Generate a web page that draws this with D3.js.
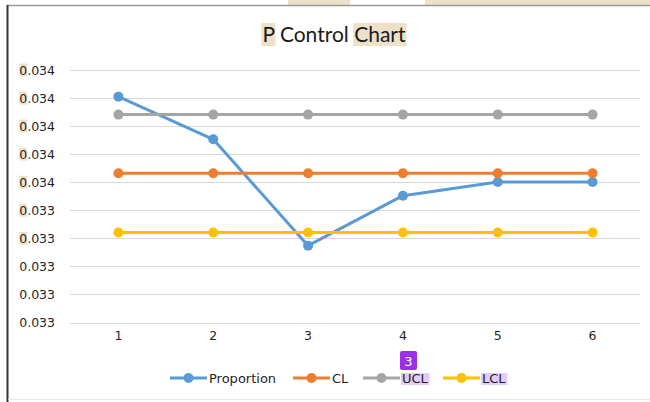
<!DOCTYPE html>
<html>
<head>
<meta charset="utf-8">
<script src="https://cdn.jsdelivr.net/npm/d3@7/dist/d3.min.js"></script>
<style>
  html, body { margin: 0; padding: 0; background: #fff; }
  svg { display: block; }
</style>
</head>
<body>
<svg id="chart" width="650" height="402"></svg>
<script>
// ---- data ----
const categories = ["1", "2", "3", "4", "5", "6"];
const proportion = [0.033805, 0.033653, 0.033274, 0.033452, 0.033501, 0.033501];
const clValues   = [0.033532, 0.033532, 0.033532, 0.033532, 0.033532, 0.033532];
const uclValues  = [0.033741, 0.033741, 0.033741, 0.033741, 0.033741, 0.033741];
const lclValues  = [0.033321, 0.033321, 0.033321, 0.033321, 0.033321, 0.033321];
const yTicks      = [0.0330, 0.0331, 0.0332, 0.0333, 0.0334, 0.0335, 0.0336, 0.0337, 0.0338, 0.0339];
const yTickLabels = ["0.033", "0.033", "0.033", "0.033", "0.033", "0.034", "0.034", "0.034", "0.034", "0.034"];
const seriesNames = ["Proportion", "CL", "UCL", "LCL"];
const seriesColors = ["#5B9BD5", "#ED7D31", "#A5A5A5", "#FFC000"];
const title = "P Control Chart";

const series = [proportion, clValues, uclValues, lclValues].map((vals, i) => ({
  name: seriesNames[i], color: seriesColors[i], values: vals
}));

const svg = d3.select("#chart");
const W = 650, H = 402;
const plot = { left: 71, right: 640, top: 70, bottom: 322.5 };

// ---- page decorations (document context strip above the chart frame) ----
svg.append("rect").attr("x", 288).attr("y", 0).attr("width", 62).attr("height", 5).attr("fill", "#EDE1C9");
svg.append("rect").attr("x", 425).attr("y", 0).attr("width", 225).attr("height", 5).attr("fill", "#EDE1C9");
svg.append("line").attr("x1", 7).attr("x2", W).attr("y1", 5.5).attr("y2", 5.5).attr("stroke", "#9a9a9a").attr("stroke-width", 1.5);
svg.append("line").attr("x1", 7.5).attr("x2", 7.5).attr("y1", 5).attr("y2", H).attr("stroke", "#333").attr("stroke-width", 2);
svg.append("line").attr("x1", 8).attr("x2", W).attr("y1", 399.5).attr("y2", 399.5).attr("stroke", "#e6e6e6").attr("stroke-width", 1);

// ---- scales ----
const x = d3.scaleBand().domain(categories).range([plot.left, plot.right]);
const y = d3.scaleLinear().domain([0.0330, 0.0339]).range([plot.bottom, plot.top]);
const cx = c => x(c) + x.bandwidth() / 2;

// ---- title ----
const titleG = svg.append("g");
const titleText = titleG.append("text").attr("x", 334).attr("y", 42)
  .attr("text-anchor", "middle").attr("font-family", "Lato, 'Open Sans', sans-serif")
  .attr("font-size", 21).attr("fill", "#1a1a1a");
titleText.append("tspan").text("P");
titleText.append("tspan").text(" Control ");
titleText.append("tspan").text("Chart");
const tNode = titleText.node();
const pBox = tNode.getExtentOfChar(0);
const chartStart = title.indexOf("Chart");
const c0 = tNode.getExtentOfChar(chartStart), c1 = tNode.getExtentOfChar(title.length - 1);
titleG.insert("rect", "text").attr("x", pBox.x - 1).attr("y", 23).attr("width", pBox.width + 2).attr("height", 23).attr("fill", "#EDE1C9");
titleG.insert("rect", "text").attr("x", c0.x - 1).attr("y", 23).attr("width", c1.x + c1.width - c0.x + 2).attr("height", 23).attr("fill", "#EDE1C9");

// ---- gridlines ----
svg.append("g").selectAll("line").data(yTicks).join("line")
  .attr("x1", plot.left - 1).attr("x2", plot.right)
  .attr("y1", d => Math.round(y(d)) + 0.5).attr("y2", d => Math.round(y(d)) + 0.5)
  .attr("stroke", "#D9D9D9").attr("stroke-width", 1);

// ---- y axis ----
const yAxis = d3.axisLeft(y).tickValues(yTicks).tickSize(0).tickPadding(0)
  .tickFormat((d, i) => yTickLabels[i]);
const yG = svg.append("g").attr("transform", "translate(55,0)").call(yAxis);
yG.select(".domain").remove();
yG.selectAll("text").attr("font-family", "'DejaVu Sans', sans-serif").attr("font-size", 12.5).attr("fill", "#1f1f1f");
yG.selectAll(".tick").each(function(d, i) {
  if (i >= 3) {
    const t = d3.select(this).select("text").node();
    const b = t.getExtentOfChar(0);
    d3.select(this).insert("rect", "text").attr("x", b.x).attr("y", b.y + 1).attr("width", b.width).attr("height", b.height - 2).attr("fill", "#EDE1C9");
  }
});

// ---- x axis ----
const xAxis = d3.axisBottom(x).tickSize(0).tickPadding(0);
const xG = svg.append("g").attr("transform", `translate(0,${plot.bottom + 9})`).call(xAxis);
xG.select(".domain").remove();
xG.selectAll("text").attr("font-family", "'DejaVu Sans', sans-serif").attr("font-size", 12.5).attr("fill", "#1f1f1f");

// ---- series ----
const line = d3.line().x((d, i) => cx(categories[i])).y(d => y(d));
series.forEach(s => {
  const g = svg.append("g");
  g.append("path").attr("d", line(s.values)).attr("fill", "none")
    .attr("stroke", s.color).attr("stroke-width", 3).attr("stroke-linejoin", "round");
  g.selectAll("circle").data(s.values).join("circle")
    .attr("cx", (d, i) => cx(categories[i])).attr("cy", d => y(d)).attr("r", 5)
    .attr("fill", s.color);
});

// ---- legend ----
const legendY = 378;
const legendX = [170, 293, 363, 443];
series.forEach((s, i) => {
  const g = svg.append("g").attr("transform", `translate(${legendX[i]},${legendY})`);
  g.append("line").attr("x1", 0).attr("x2", 37).attr("y1", 0).attr("y2", 0).attr("stroke", s.color).attr("stroke-width", 3);
  g.append("circle").attr("cx", 18.5).attr("cy", 0).attr("r", 5).attr("fill", s.color);
  const t = g.append("text").attr("x", 39).attr("y", 5).attr("font-family", "'DejaVu Sans', sans-serif")
    .attr("font-size", 13).attr("fill", "#1f1f1f").text(s.name);
  if (i >= 2) {
    const bb = t.node().getBBox();
    g.insert("rect", "text").attr("x", bb.x - 1).attr("y", -5).attr("width", bb.width + 2).attr("height", 12).attr("fill", "#E3CCF7");
  }
});
// comment badge
svg.append("rect").attr("x", 400).attr("y", 351).attr("width", 17).attr("height", 19).attr("rx", 2).attr("fill", "#9B30E8");
svg.append("text").attr("x", 408.5).attr("y", 366).attr("text-anchor", "middle")
  .attr("font-family", "'DejaVu Sans', sans-serif").attr("font-size", 13).attr("fill", "#fff").text("3");
</script>
</body>
</html>
